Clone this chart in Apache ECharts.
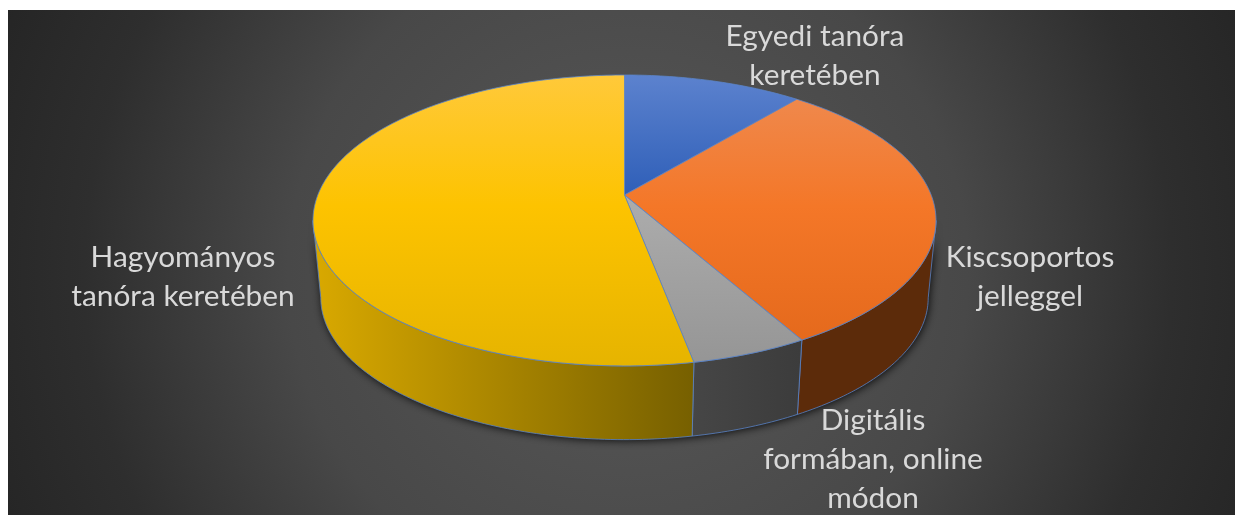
<!DOCTYPE html>
<html>
<head>
<meta charset="utf-8">
<style>html,body{margin:0;padding:0;background:#fff}#c{width:1235px;height:515px}</style>
<script src="https://cdn.jsdelivr.net/npm/echarts@6/dist/echarts.min.js"></script>
</head>
<body>
<div id="c"></div>
<script>
// Data
const categories = ['Egyedi tanóra\nkeretében', 'Kiscsoportos\njelleggel', 'Digitális\nformában, online\nmódon', 'Hagyományos\ntanóra keretében'];
const shares = [11, 30.85, 5.15, 53];

// Projection of the tilted disc (perspective)
const view = {cx: 624.5, apexY: 195, R: 306.7, H: 141, p: 0.175, botY: 273, botScale: 0.975};
const total = shares.reduce((a, b) => a + b, 0);
const deg = Math.PI / 180;
function pt(t, bottom) {
  const w = 1 + view.p * Math.cos(t), s = bottom ? view.botScale : 1;
  return [view.cx + s * view.R * Math.sin(t) / w,
          (bottom ? view.botY : view.apexY) - s * view.H * Math.cos(t) / w];
}
function arc(a, b, bottom) {
  const n = Math.max(2, Math.ceil(Math.abs(b - a) / deg)), out = [];
  for (let i = 0; i <= n; i++) out.push(pt(a + (b - a) * i / n, bottom));
  return out;
}
const sideLo = Math.acos(-view.p), sideHi = 2 * Math.PI - sideLo;

function vGrad(stops) {
  return {type: 'linear', global: true, x: 0, y: 75, x2: 0, y2: 366,
    colorStops: stops.map(s => ({offset: s[0], color: s[1]}))};
}
function hGrad(x, x2, c1, c2) {
  return {type: 'linear', global: true, x: x, y: 0, x2: x2, y2: 0,
    colorStops: [{offset: 0, color: c1}, {offset: 1, color: c2}]};
}
const topFills = [
  vGrad([[0, '#5C82CE'], [0.41, '#2F5FB8'], [1, '#264F9A']]),
  vGrad([[0, '#EE8C54'], [0.45, '#F47728'], [1, '#E2671A']]),
  vGrad([[0, '#C8C8C8'], [0.45, '#ABABAB'], [1, '#959595']]),
  vGrad([[0, '#FFC93A'], [0.45, '#FDC300'], [1, '#E6B400']])
];
const wallFills = [
  '#1F3864',
  '#5C2B0A',
  hGrad(692, 800, '#464646', '#3C3C3C'),
  hGrad(313, 692, '#D9A900', '#776000')
];
const labelAnchors = [[815, 56], [1030, 277], [873, 459], [183, 277]];
const edge = {stroke: '#5B84C8', lineWidth: 0.8};

function renderSlice(params, api) {
  const i = params.dataIndex;
  let before = 0;
  for (let k = 0; k < i; k++) before += shares[k];
  const a = before / total * 2 * Math.PI;
  const b = a + api.value(0) / total * 2 * Math.PI;
  const children = [];

  if (i === 0) {
    // Dark soft shadow under the whole disc
    const outline = arc(sideLo, sideHi, true).concat(arc(sideHi, sideLo, false));
    children.push({type: 'polygon', z2: 0, shape: {points: outline},
      style: {fill: '#222', shadowBlur: 9, shadowColor: 'rgba(0,0,0,0.85)', shadowOffsetX: 1, shadowOffsetY: 1}});
  }
  const w0 = Math.max(a, sideLo), w1 = Math.min(b, sideHi);
  if (w1 > w0) {
    const poly = arc(w0, w1, false).concat(arc(w1, w0, true));
    children.push({type: 'polygon', z2: 1, shape: {points: poly},
      style: Object.assign({fill: wallFills[i]}, edge)});
  }
  const top = [[view.cx, view.apexY]].concat(arc(a, b, false));
  children.push({type: 'polygon', z2: 2, shape: {points: top},
    style: Object.assign({fill: topFills[i]}, edge)});
  children.push({type: 'text', z2: 3, x: labelAnchors[i][0], y: labelAnchors[i][1],
    style: {text: categories[i], fill: '#D9D9D9', font: '400 29.8px Lato, "Open Sans", sans-serif',
      lineHeight: 39, align: 'center', verticalAlign: 'middle'}});
  return {type: 'group', children: children};
}

const chart = echarts.init(document.getElementById('c'), null, {renderer: 'canvas'});
chart.setOption({
  animation: false,
  backgroundColor: '#fff',
  graphic: [{
    type: 'rect', z: -1, left: 8, top: 10, silent: true,
    shape: {width: 1227, height: 505},
    style: {fill: {type: 'radial', global: true, x: 620, y: 262, r: 680, colorStops: [
      {offset: 0, color: '#595959'}, {offset: 0.5, color: '#484848'},
      {offset: 0.8, color: '#2E2E2E'}, {offset: 1, color: '#252525'}]}}
  }],
  series: [{
    type: 'custom',
    coordinateSystem: 'none',
    renderItem: renderSlice,
    data: shares.map((v, i) => ({name: categories[i], value: [v]}))
  }]
});
</script>
</body>
</html>
